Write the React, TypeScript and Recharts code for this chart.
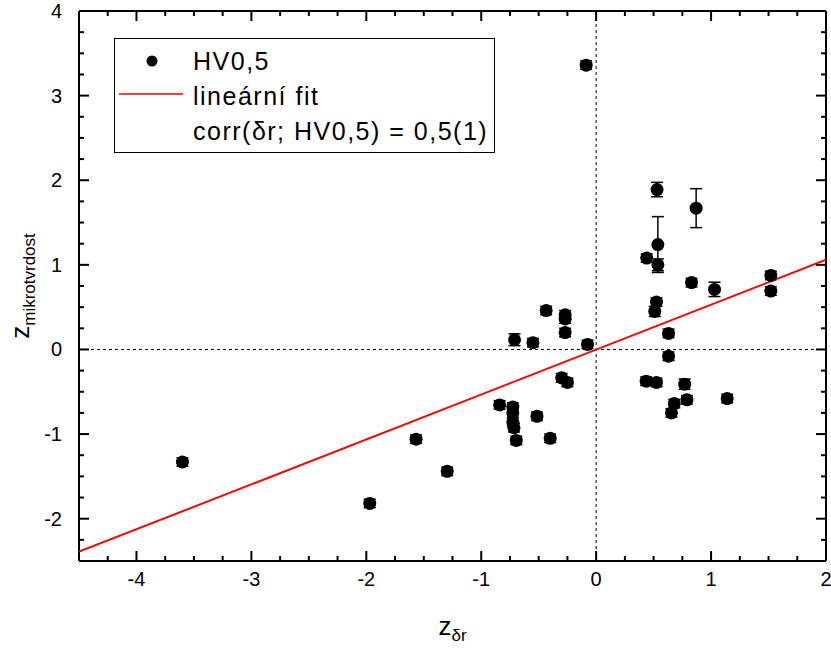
import React from "react";
import {
  ErrorBar,
  ReferenceLine,
  Scatter,
  ScatterChart,
  XAxis,
  YAxis,
} from "recharts";

// measured points: z of delta-r, z of microhardness, error of z
const zDr = [
  0.53, 0.87, 0.537, 0.44, 0.537, 0.83, 1.03, 1.52, 1.52, 0.525, 0.51, 0.63,
  0.63, 0.435, 0.525, 0.77, 0.79, 1.14, 0.68, 0.655, -0.075, -0.435, -0.27,
  -0.27, -0.27, -0.71, -0.55, -0.3, -0.25, -0.84, -0.725, -0.725, -0.725,
  -0.715, -0.695, -0.515, -0.4, -1.567, -0.087, -3.6, -1.97, -1.296,
];
const zHv = [
  1.89, 1.67, 1.24, 1.08, 1.0, 0.79, 0.71, 0.875, 0.69, 0.56, 0.45, 0.19,
  -0.08, -0.375, -0.39, -0.41, -0.595, -0.58, -0.64, -0.75, 0.06, 0.46, 0.41,
  0.36, 0.2, 0.115, 0.08, -0.335, -0.39, -0.655, -0.68, -0.75, -0.86, -0.925,
  -1.075, -0.79, -1.05, -1.06, 3.36, -1.33, -1.82, -1.44,
];
const zErr = [
  0.085, 0.23, 0.33, 0.05, 0.07, 0.05, 0.085, 0.05, 0.05, 0.05, 0.06, 0.05,
  0.05, 0.05, 0.05, 0.06, 0.05, 0.05, 0.05, 0.05, 0.05, 0.05, 0.05, 0.05,
  0.05, 0.07, 0.05, 0.05, 0.05, 0.05, 0.05, 0.05, 0.05, 0.05, 0.05, 0.05,
  0.05, 0.05, 0.05, 0.05, 0.05, 0.05,
];

// linear fit end points
const fitX = [-4.5, 2];
const fitY = [-2.39, 1.06];

const xMajor = [-4, -3, -2, -1, 0, 1, 2];
const yMajor = [-2, -1, 0, 1, 2, 3, 4];

const legendLabels = ["HV0,5", "lineární fit", "corr(δr; HV0,5) = 0,5(1)"];

const X0 = -4.5;
const X1 = 2;
const Y0 = -2.5;
const Y1 = 4;

const quarters = (lo: number, hi: number) => {
  const out: number[] = [];
  for (let v = lo; v <= hi + 1e-9; v += 0.25) out.push(Math.round(v * 100) / 100);
  return out;
};
const xTicks = quarters(X0, X1);
const yTicks = quarters(Y0, Y1);

const points = zDr.map((x, i) => ({ x, y: zHv[i], err: zErr[i] }));
const fit = fitX.map((x, i) => ({ x, y: fitY[i] }));

const FONT = "'Liberation Sans', Arial, sans-serif";
// tick lengths in data units (about 10px major, 5px minor)
const XT_MAJ = 0.118;
const XT_MIN = 0.059;
const YT_MAJ = 0.087;
const YT_MIN = 0.043;

function BottomLabel({ x, y, payload }: any) {
  if (!xMajor.includes(payload.value)) return <g />;
  return (
    <text x={x} y={y + 25} textAnchor="middle" fontSize={20} fontFamily={FONT} fill="#000">
      {payload.value}
    </text>
  );
}

function LeftLabel({ x, y, payload }: any) {
  if (!yMajor.includes(payload.value)) return <g />;
  return (
    <text x={x - 17} y={y} dy="0.35em" textAnchor="end" fontSize={20} fontFamily={FONT} fill="#000">
      {payload.value}
    </text>
  );
}

const Dot = ({ cx, cy }: any) => <circle cx={cx} cy={cy} r={6.5} fill="#000" />;

const XTitle = ({ viewBox }: any) => (
  <text x={viewBox.x + viewBox.width / 2} y={635} textAnchor="middle" fontFamily={FONT} fill="#000">
    <tspan fontSize={26}>z</tspan>
    <tspan fontSize={17} dy={6}>δr</tspan>
  </text>
);

const YTitle = () => (
  <text transform="translate(29, 286) rotate(-90)" textAnchor="middle" fontFamily={FONT} fill="#000">
    <tspan fontSize={26}>z</tspan>
    <tspan fontSize={17} dy={6}>mikrotvrdost</tspan>
  </text>
);

const tickStyle = { stroke: "#000", strokeWidth: 2 };

export default function App() {
  const xTickLines = xTicks.flatMap((v) => {
    const len = xMajor.includes(v) ? XT_MAJ : XT_MIN;
    return [
      <ReferenceLine key={`xb${v}`} segment={[{ x: v, y: Y0 }, { x: v, y: Y0 + len }]} {...tickStyle} />,
      <ReferenceLine key={`xt${v}`} segment={[{ x: v, y: Y1 }, { x: v, y: Y1 - len }]} {...tickStyle} />,
    ];
  });
  const yTickLines = yTicks.flatMap((v) => {
    const len = yMajor.includes(v) ? YT_MAJ : YT_MIN;
    return [
      <ReferenceLine key={`yl${v}`} segment={[{ x: X0, y: v }, { x: X0 + len, y: v }]} {...tickStyle} />,
      <ReferenceLine key={`yr${v}`} segment={[{ x: X1, y: v }, { x: X1 - len, y: v }]} {...tickStyle} />,
    ];
  });

  return (
    <div style={{ position: "absolute", left: 0, top: 0, width: 831, height: 652, background: "#fff" }}>
      <ScatterChart width={831} height={652} margin={{ top: 11, right: 5, bottom: 0, left: 0 }}>
        <XAxis
          type="number"
          dataKey="x"
          domain={[X0, X1]}
          ticks={xTicks}
          interval={0}
          allowDataOverflow
          height={91}
          tickSize={0}
          tickMargin={0}
          tickLine={false}
          axisLine={false}
          tick={(p: any) => <BottomLabel {...p} />}
          label={{ content: <XTitle /> }}
        />
        <YAxis
          type="number"
          dataKey="y"
          domain={[Y0, Y1]}
          ticks={yTicks}
          interval={0}
          allowDataOverflow
          width={79}
          tickSize={0}
          tickMargin={0}
          tickLine={false}
          axisLine={false}
          tick={(p: any) => <LeftLabel {...p} />}
          label={{ content: <YTitle /> }}
        />
        <ReferenceLine x={0} stroke="#000" strokeDasharray="3 3" />
        <ReferenceLine y={0} stroke="#000" strokeDasharray="3 3" />
        {xTickLines}
        {yTickLines}
        <ReferenceLine x={X0} {...tickStyle} />
        <ReferenceLine x={X1} {...tickStyle} />
        <ReferenceLine y={Y0} {...tickStyle} />
        <ReferenceLine y={Y1} {...tickStyle} />
        <Scatter
          data={fit}
          line={{ stroke: "#ff0000", strokeWidth: 2 }}
          shape={() => <g />}
          isAnimationActive={false}
        />
        <Scatter data={points} shape={<Dot />} isAnimationActive={false}>
          <ErrorBar dataKey="err" direction="y" width={6} stroke="#000" strokeWidth={1.5} isAnimationActive={false} />
        </Scatter>
      </ScatterChart>
      <div
        style={{
          position: "absolute",
          left: 114,
          top: 38,
          width: 379,
          height: 113,
          border: "1px solid #000",
        }}
      >
        <svg width={379} height={113} style={{ position: "absolute", left: 0, top: 0 }}>
          <circle cx={37} cy={22} r={5.5} fill="#000" />
          <line x1={4} y1={55} x2={68} y2={55} stroke="#ff0000" strokeWidth={1.5} />
          {legendLabels.map((t, i) => (
            <text
              key={t}
              x={78}
              y={22 + i * 35}
              dy="0.35em"
              fontSize={25}
              letterSpacing={1.5}
              fontFamily={FONT}
              fill="#000"
            >
              {t}
            </text>
          ))}
        </svg>
      </div>
    </div>
  );
}
